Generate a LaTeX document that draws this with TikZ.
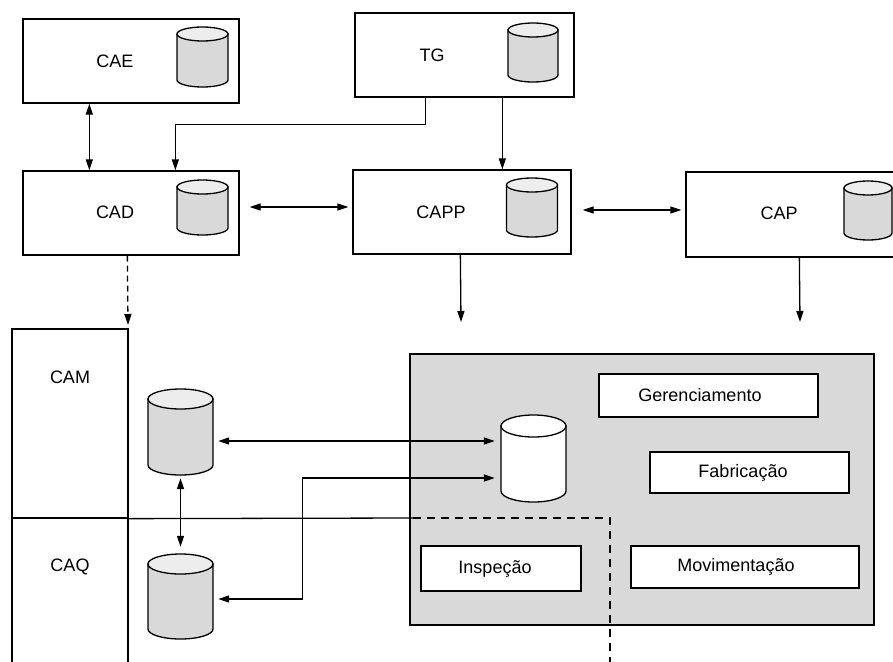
\documentclass[tikz,border=0pt]{standalone}
\usepackage{fontspec}
\setmainfont{Liberation Sans}
\usetikzlibrary{arrows.meta,calc}
\newcommand\dbcyl[8]{% name, cx, ytop, ybot, rx, ry, bodyfill, topfill
  \node[inner sep=0pt, minimum width={2*#5 pt}, minimum height={(#4-#3)*1pt}] (#1) at (#2,{(#3+#4)/2}) {};
  \path[draw, line width=1.3pt, fill=#7] (#2-#5,#3+#6) -- (#2-#5,#4-#6)
    arc[start angle=180, end angle=360, x radius=#5pt, y radius=#6pt] -- (#2+#5,#3+#6) -- cycle;
  \path[draw, line width=1.3pt, fill=#8] (#2,#3+#6) ellipse [x radius=#5pt, y radius=#6pt];
}
\definecolor{cylbody}{gray}{0.85}
\definecolor{cyltop}{gray}{0.93}
\definecolor{panel}{gray}{0.85}
\begin{document}
\begin{tikzpicture}[x=1pt,y=-1pt,
  box/.style={draw, line width=1.3pt, inner sep=0pt, rectangle},
  lbl/.style={inner sep=0pt, font=\fontsize{18}{21}\selectfont},
  con/.style={line width=1.3pt},
  arr/.style={con, -{Triangle[length=11pt,width=7pt]}},
  dbl/.style={con, {Triangle[length=11pt,width=7pt]}-{Triangle[length=11pt,width=7pt]}},
  dsh/.style={con, dash pattern=on 8pt off 6pt}]
\useasboundingbox (0,0) rectangle (893,661);
\clip (0,0) rectangle (893,661);
\fill[white] (0,0) rectangle (893,661);

% top boxes
\node[box, minimum width=216pt, minimum height=84pt] (CAE) at (131,61) {};
\node[lbl] (tCAE) at (115,61) {CAE};
\dbcyl{cCAE}{202.5}{27}{87}{25.5}{7}{cylbody}{cyltop}

\node[box, minimum width=219pt, minimum height=84pt] (TG) at (464.5,55) {};
\node[lbl] (tTG) at (432,55) {TG};
\dbcyl{cTG}{533}{23}{82}{25}{7}{cylbody}{cyltop}

\node[box, minimum width=216pt, minimum height=84pt] (CAD) at (131,213) {};
\node[lbl] (tCAD) at (115,212) {CAD};
\dbcyl{cCAD}{202.5}{180}{235}{25.5}{7}{cylbody}{cyltop}

\node[box, minimum width=218pt, minimum height=84pt] (CAPP) at (462,212) {};
\node[lbl] (tCAPP) at (441,212) {CAPP};
\dbcyl{cCAPP}{532}{178}{237}{25.5}{7}{cylbody}{cyltop}

\node[box, minimum width=230pt, minimum height=85pt] (CAP) at (801,214.5) {};
\node[lbl] (tCAP) at (779,213) {CAP};
\dbcyl{cCAP}{868}{181}{240}{24}{7}{cylbody}{cyltop}

% top connectors
\draw[dbl] ($(CAE.south west)+(67,0)$) -- ($(CAD.north west)+(67,0)$);
\draw[arr] ($(TG.south west)+(71,0)$) -- ++(0,27) -| ($(CAD.north west)+(153,0)$);
\draw[arr] ($(TG.south west)+(148,0)$) -- ($(CAPP.north west)+(150,0)$);
\draw[dbl] ($(CAD.east)+(10,-6)$) -- ($(CAPP.west)+(-4,-5)$);
\draw[dbl] ($(CAPP.east)+(11,-2)$) -- ($(CAP.west)+(-4,-4.5)$);
\coordinate (endCAPP) at (461,322);
\coordinate (endCAP) at (800,322);
\coordinate (endCAD) at (128,325);
\draw[arr] ($(CAPP.south west)+(108,0)$) -- (endCAPP);
\draw[arr] ($(CAP.south west)+(114,0)$) -- (endCAP);
\draw[con, dash pattern=on 6pt off 4pt, -{Triangle[length=11pt,width=7pt]}] ($(CAD.south west)+(105,0)$) -- (endCAD);

% CAM / CAQ
\node[box, minimum width=116pt, minimum height=189pt] (CAM) at (70,423.5) {};
\node[box, minimum width=116pt, minimum height=200pt] (CAQ) at (70,618) {};
\node[lbl] (tCAM) at (70,377) {CAM};
\node[lbl] (tCAQ) at (70,567) {CAQ};

% grey panel
\node[box, fill=panel, minimum width=464pt, minimum height=271pt] (panel) at (642,489.5) {};
\node[box, fill=white, minimum width=219pt, minimum height=43pt] (ger) at (708.5,395.5) {};
\node[lbl] (tger) at (700,395.5) {Gerenciamento};
\node[box, fill=white, minimum width=199pt, minimum height=41pt] (fab) at (749.5,472.5) {};
\node[lbl] (tfab) at (743,472.5) {Fabricação};
\node[box, fill=white, minimum width=160pt, minimum height=45pt] (insp) at (501,568.5) {};
\node[lbl] (tinsp) at (495,568.5) {Inspeção};
\node[box, fill=white, minimum width=228pt, minimum height=42pt] (mov) at (745,567) {};
\node[lbl] (tmov) at (736,567) {Movimentação};

% cylinders
\dbcyl{camcyl}{180.5}{389}{475}{32.5}{10}{cylbody}{cyltop}
\dbcyl{caqcyl}{180.5}{554}{639}{32.5}{10}{cylbody}{cyltop}
\dbcyl{gcyl}{533.5}{415}{502}{32.5}{11}{white}{white}

% divider lines
\coordinate (divA) at (413,518);
\coordinate (divB) at (610,518);
\coordinate (divC) at (610,670);
\draw[con] (CAM.south east) -- (divA);
\draw[dsh] (divA) -- (divB) -- (divC);

% bottom connectors
\draw[dbl] ($(camcyl.south)+(0,3)$) -- ($(caqcyl.north)+(0,-7)$);
\draw[dbl] ($(camcyl.east)+(5,9)$) -- ($(gcyl.west)+(-6,-17.5)$);
\draw[dbl] ($(gcyl.west)+(-6,19.5)$) -- ++(-192,0) |- ($(caqcyl.east)+(5,2.5)$);
\end{tikzpicture}
\end{document}
